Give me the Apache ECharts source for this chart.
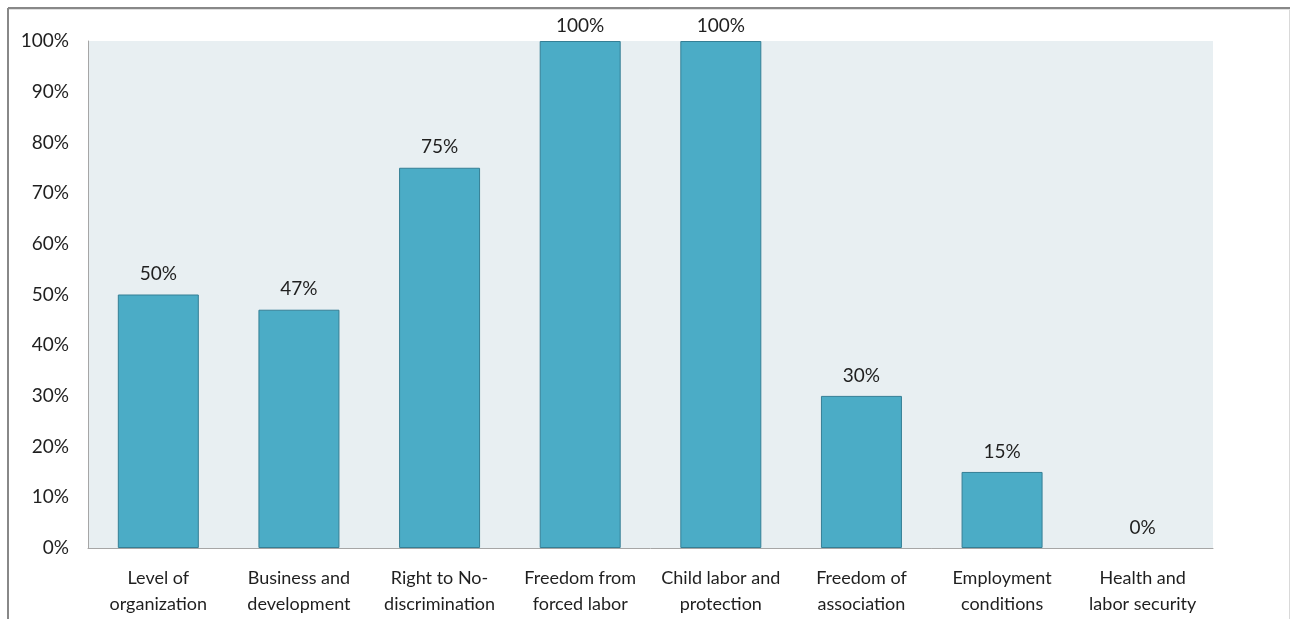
<!DOCTYPE html>
<html>
<head>
<meta charset="utf-8">
<script src="https://cdn.jsdelivr.net/npm/echarts@6/dist/echarts.min.js"></script>
<style>
  html, body { margin: 0; padding: 0; background: #ffffff; }
  #chart { width: 1290px; height: 619px; }
</style>
</head>
<body>
<div id="chart"></div>
<script>
// Share of criteria met per labour-rights area
const categories = [
  'Level of\norganization',
  'Business and\ndevelopment',
  'Right to No-\ndiscrimination',
  'Freedom from\nforced labor',
  'Child labor and\nprotection',
  'Freedom of\nassociation',
  'Employment\nconditions',
  'Health and\nlabor security'
];
const values = [50, 47, 75, 100, 100, 30, 15, 0];

const FONT = 'Lato, "Open Sans", sans-serif';
const TEXT = '#1f1f1f';
const Y_MAX = 100;
const chart = echarts.init(document.getElementById('chart'), null, { renderer: 'canvas' });

// a zero bar gets no outline so it stays invisible; full-height bars keep
// their labels tucked under the chart frame
const barData = values.map(v => {
  if (v === 0) return { value: v, itemStyle: { borderWidth: 0 } };
  if (v >= Y_MAX) return { value: v, label: { distance: 6 } };
  return v;
});

chart.setOption({
  animation: false,
  backgroundColor: '#ffffff',
  graphic: [
    // outer frame of the chart area (top and left edges heavier)
    { type: 'line', shape: { x1: 8, y1: 8, x2: 1290, y2: 8 }, style: { stroke: '#888888', lineWidth: 2 } },
    { type: 'line', shape: { x1: 8, y1: 8, x2: 8, y2: 619 }, style: { stroke: '#888888', lineWidth: 2 } },
    { type: 'line', shape: { x1: 1289.5, y1: 9, x2: 1289.5, y2: 619 }, style: { stroke: '#d9d9d9', lineWidth: 1 } },
    { type: 'line', shape: { x1: 9, y1: 9.5, x2: 1290, y2: 9.5 }, style: { stroke: '#e0e0e0', lineWidth: 1 } }
  ],
  grid: {
    left: 88, right: 77, top: 41, bottom: 71,
    show: true, backgroundColor: '#e8eff2', borderWidth: 0,
    containLabel: false
  },
  xAxis: {
    type: 'category',
    data: categories,
    axisLine: { show: true, lineStyle: { color: '#a6a6a6', width: 1 } },
    axisTick: { show: false },
    axisLabel: {
      interval: 0, color: TEXT, fontFamily: FONT, fontSize: 18,
      lineHeight: 26, margin: 17
    }
  },
  yAxis: {
    type: 'value',
    min: 0, max: Y_MAX, interval: 10,
    axisLine: { show: true, lineStyle: { color: '#a6a6a6', width: 1 } },
    axisTick: { show: false },
    splitLine: { show: false },
    axisLabel: {
      formatter: '{value}%', color: TEXT, fontFamily: FONT, fontSize: 19, margin: 19
    }
  },
  series: [{
    type: 'bar',
    data: barData,
    barWidth: '57.6%',
    itemStyle: { color: '#4bacc6', borderColor: '#357f95', borderWidth: 1 },
    label: {
      show: true, position: 'top', distance: 11,
      formatter: '{c}%', color: TEXT, fontFamily: FONT, fontSize: 19
    }
  }]
});
</script>
</body>
</html>
